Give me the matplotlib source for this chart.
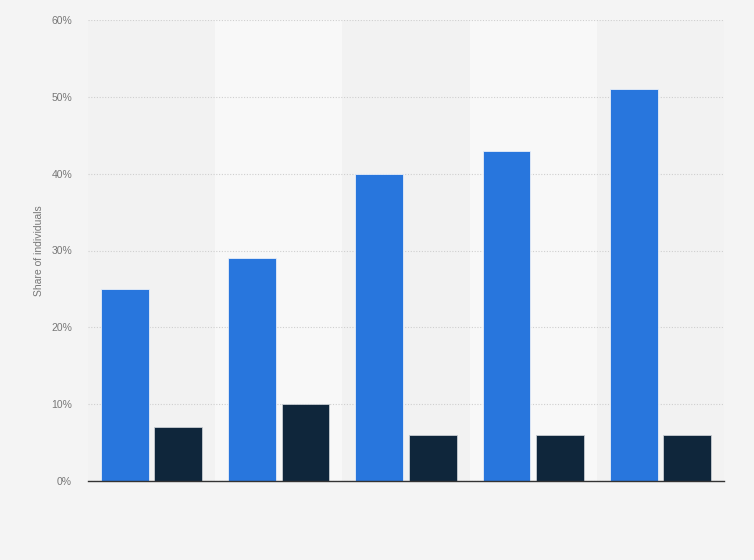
import numpy as np
import matplotlib.pyplot as plt
from matplotlib.ticker import FuncFormatter

plt.rcParams['font.family'] = ['Liberation Sans', 'DejaVu Sans']

# values (percent)
categories = ['1', '2', '3', '4', '5']
series_a = [25, 29, 40, 43, 51]
series_b = [7, 10, 6, 6, 6]
y_ticks = [0, 10, 20, 30, 40, 50, 60]

fig = plt.figure(figsize=(7.54, 5.6), dpi=100)
fig.patch.set_facecolor('#f4f4f4')
ax = fig.add_axes([88 / 754, 79 / 560, 636 / 754, 461 / 560])
ax.set_facecolor('#f2f2f2')

x = np.arange(len(categories))
# alternating lighter bands
for i in x:
    if i % 2 == 1:
        ax.axvspan(i - 0.5, i + 0.5, color='#f8f8f8', zorder=0, lw=0)

w = 0.377
ax.bar(x - 0.21, series_a, width=w, color='#2876dd', edgecolor='#e8eef8',
       linewidth=0.6, zorder=3)
ax.bar(x + 0.21, series_b, width=w, color='#0f263b', edgecolor='#c8cdd2',
       linewidth=0.6, zorder=3)

ax.set_xlim(-0.5, len(categories) - 0.5)
ax.set_ylim(0, 60)
ax.set_yticks(y_ticks)
ax.yaxis.set_major_formatter(FuncFormatter(lambda v, p: f'{v:.0f}%'))
ax.set_xticks([])
ax.tick_params(axis='y', length=0, labelsize=7.5, labelcolor='#777777', pad=11.5)
ax.grid(axis='y', color='#cfcfcf', linestyle=(0, (1, 1.5)), linewidth=0.8, zorder=1)

for s in ['top', 'right', 'left']:
    ax.spines[s].set_visible(False)
ax.spines['bottom'].set_color('#333333')
ax.spines['bottom'].set_linewidth(1.0)
ax.spines['bottom'].set_zorder(4)

ax.set_ylabel('Share of individuals', fontsize=7.5, color='#777777', labelpad=5)

fig.savefig('out.png', dpi=100, facecolor=fig.get_facecolor())
